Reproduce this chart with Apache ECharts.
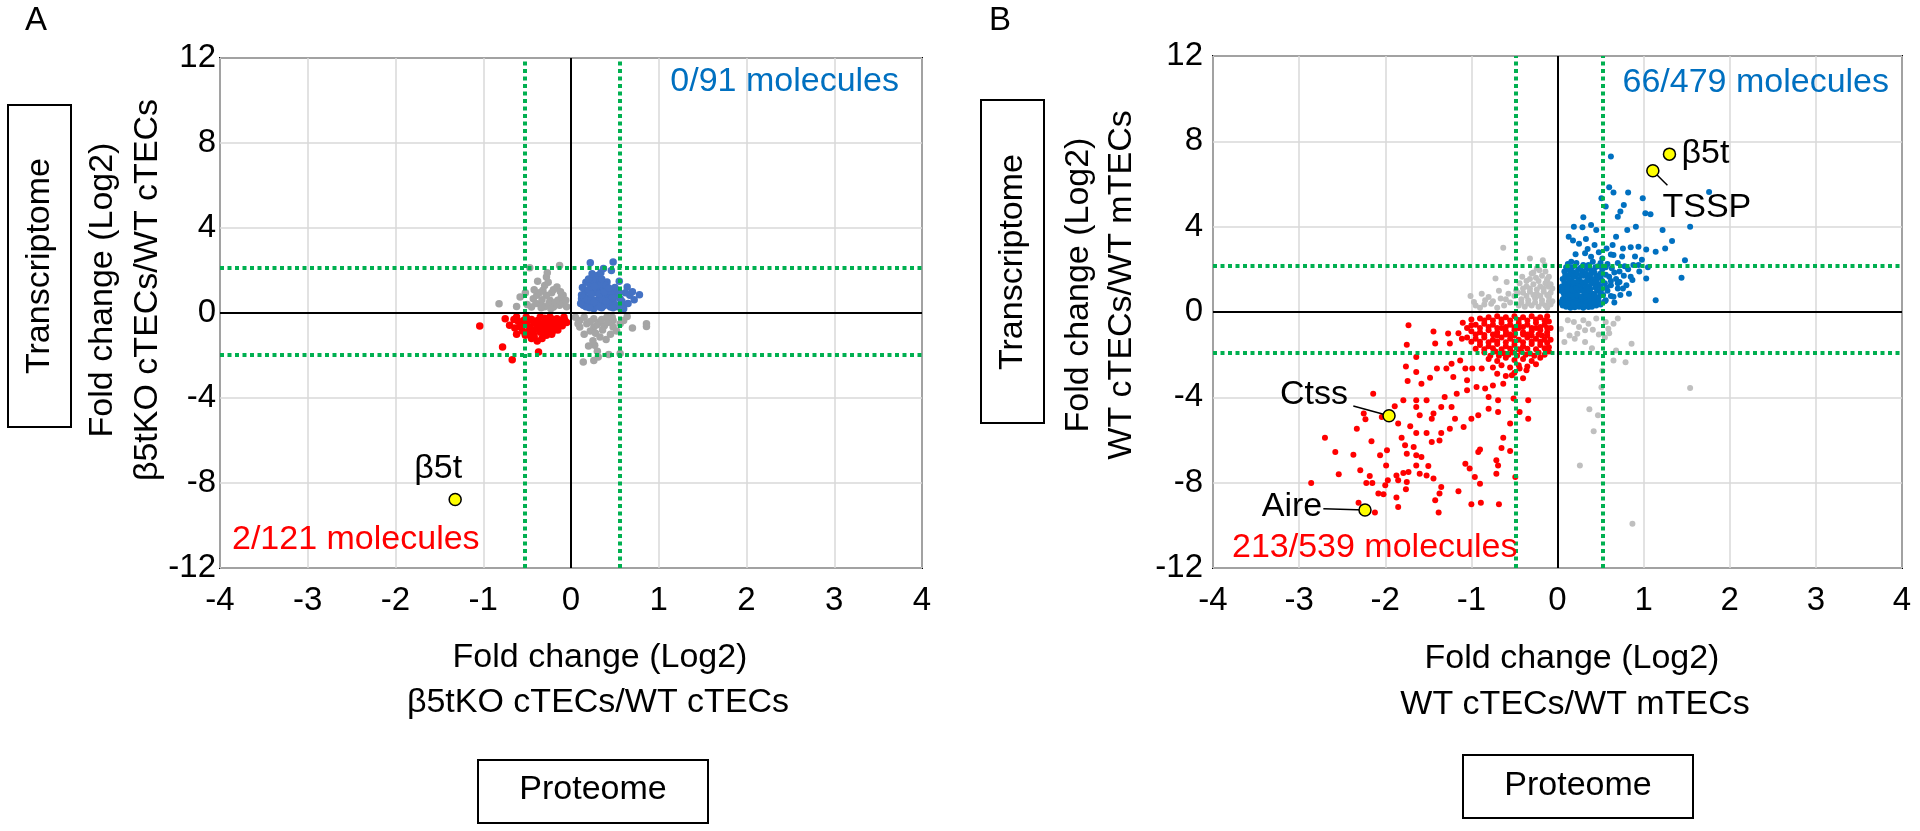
<!DOCTYPE html>
<html><head><meta charset="utf-8">
<script src="https://cdn.jsdelivr.net/npm/echarts@6/dist/echarts.min.js"></script>
<style>html,body{margin:0;padding:0;background:#fff}#c{width:1920px;height:831px}</style>
</head><body><div id="c"></div><script>
// ---------------- DATA ----------------
const xRange = [-4, 4, 1];
const yRange = [-12, 12, 4];

// Panel A : beta5tKO cTECs / WT cTECs
const aBlue = [[0.22,2.37],[0.48,2.40],[0.46,2.0],[0.30,1.77],[0.31,1.57],[0.41,1.46],[0.26,1.22],[0.18,1.07],[0.48,1.07],[0.64,1.22],[0.67,0.83],[0.78,0.86],[0.56,0.67],[0.60,0.36],[0.14,0.36],[0.12,0.67],[0.29,0.60],[0.45,0.28],[0.33,0.28],[0.22,0.75],[0.37,0.91],[0.27,0.99],[0.48,0.60],[0.16,0.52],[0.41,0.67],
[0.15,0.9],[0.2,0.45],[0.24,0.3],[0.28,0.42],[0.35,0.5],[0.38,0.35],[0.42,0.45],[0.5,0.4],[0.52,0.8],[0.44,0.85],[0.33,0.78],[0.25,0.62],[0.19,0.62],[0.31,1.1],[0.36,1.22],[0.42,1.05],[0.22,1.35],[0.28,1.42],[0.34,1.35],[0.39,0.72],[0.46,0.95],[0.13,1.2],[0.17,1.45],[0.25,1.55],[0.35,1.6],[0.29,0.95],[0.2,1.1],[0.4,1.3],[0.5,1.2],[0.55,0.95],[0.58,0.55],[0.53,0.3],[0.26,0.2],[0.31,0.55],[0.36,0.65],[0.44,0.62],[0.17,0.3],[0.11,0.45],[0.23,0.88],[0.27,1.25],[0.32,0.9],[0.38,1.0],[0.47,0.72],[0.43,1.18],[0.2,1.6],[0.24,1.85],[0.34,1.9],[0.7,1.0],[0.62,0.95],[0.72,0.62],[0.65,0.45],[0.6,0.2],[0.55,1.5],[0.37,2.1],[0.15,0.7],[0.35,0.25],[0.48,0.25],[0.4,0.55],[0.3,0.35],[0.26,0.5],[0.21,0.25],[0.12,0.85]];
const aGray = [[-0.47,2.13],[-0.13,2.24],[-0.28,1.69],[-0.32,1.07],[-0.16,1.22],[-0.11,0.75],[-0.58,0.75],[-0.82,0.44],[-0.62,0.31],[-0.43,0.67],[-0.35,0.44],[-0.24,0.6],[-0.13,0.36],[-0.39,0.83],[-0.28,0.83],[-0.2,0.28],[-0.45,0.28],[-0.09,0.83],
[-0.3,0.3],[-0.25,0.45],[-0.18,0.5],[-0.4,0.45],[-0.33,0.62],[-0.22,0.95],[-0.3,1.3],[-0.26,1.45],[-0.36,0.95],[-0.15,0.6],[-0.1,0.45],[-0.5,0.4],[-0.2,1.1],[-0.42,1.1],[-0.27,1.9],[-0.05,0.3],[-0.52,0.95],[-0.12,1.0],[-0.34,0.25],[-0.23,0.2],[-0.38,1.5],[-0.06,0.6],
[0.10,-0.35],[0.26,-0.27],[0.41,-0.19],[0.64,-0.16],[0.86,-0.5],[0.86,-0.63],[0.45,-1.0],[0.26,-0.66],[0.27,-1.52],[0.33,-1.13],[0.14,-2.31],[0.26,-2.23],[0.31,-2.07],[0.43,-1.95],[0.56,-1.91],[0.18,-0.5],[0.33,-0.42],[0.48,-0.35],[0.10,-0.66],[0.48,-0.66],[0.56,-0.5],
[0.05,-0.2],[0.15,-0.2],[0.22,-0.4],[0.3,-0.55],[0.38,-0.6],[0.42,-0.45],[0.36,-0.8],[0.22,-0.85],[0.15,-1.0],[0.28,-0.95],[0.4,-1.25],[0.3,-1.8],[0.2,-1.55],[0.52,-0.85],[0.6,-0.35],[0.7,-0.7],[0.08,-0.5],[0.35,-0.3],[0.25,-1.3],[0.47,-0.2]];
const aRed = [[-1.04,-0.61],[-0.75,-0.27],[-0.70,-0.58],[-0.78,-1.6],[-0.67,-2.2],[-0.385,-1.32],[-0.37,-1.84],[-0.62,-0.19],[-0.54,-0.35],[-0.47,-0.66],[-0.39,-0.5],[-0.32,-0.74],[-0.28,-1.05],[-0.2,-0.82],[-0.126,-0.5],[-0.07,-0.35],[-0.35,-0.19],[-0.24,-0.19],[-0.43,-0.97],[-0.58,-0.66],[-0.16,-0.27],[-0.51,-0.19],
[-0.45,-0.3],[-0.4,-0.75],[-0.3,-0.4],[-0.25,-0.6],[-0.18,-0.45],[-0.1,-0.6],[-0.35,-0.9],[-0.5,-0.5],[-0.55,-0.85],[-0.6,-0.4],[-0.3,-0.25],[-0.15,-0.8],[-0.22,-1.0],[-0.42,-1.1],[-0.33,-1.2],[-0.48,-0.9],[-0.65,-0.3],[-0.08,-0.2],[-0.27,-0.85],[-0.12,-0.35],[-0.37,-0.6],[-0.52,-1.05],[-0.45,-1.2],[-0.2,-0.3],[-0.05,-0.45],[-0.62,-1.0],
[-0.42,-0.45],[-0.32,-0.55],[-0.23,-0.45],[-0.14,-0.55],[-0.38,-0.35],[-0.28,-0.65],[-0.2,-0.65],[-0.47,-0.78],[-0.56,-0.55],[-0.64,-0.7]];
const aHighlight = [['β5t', -1.32, -8.78]];
const aThreshX = [-0.53, 0.56];
const aThreshY = [2.12, -1.96];
const aCounts = ['0/91 molecules', '2/121 molecules'];

// Panel B : WT cTECs / WT mTECs
const bBlue = [[0.62,7.29],[0.60,5.85],[0.65,5.6],[0.82,5.6],[0.99,5.33],[0.51,5.33],[0.77,5.02],[0.56,4.94],[0.73,4.71],[0.70,4.47],[1.02,4.63],[1.08,4.58],[1.76,5.62],[1.54,4.0],[1.22,3.84],[0.91,4.0],[0.81,3.84],[0.68,3.53],[0.30,4.44],[0.19,4.0],[0.13,3.53],[0.29,3.97],[0.39,4.08],[0.45,3.84],[0.33,3.42],[0.43,3.14],[0.57,2.98],[0.64,3.14],[0.76,2.98],[0.85,3.03],[0.94,3.06],[1.03,2.93],[1.14,2.82],[1.25,2.98],[1.33,3.33],[1.48,2.43],[1.44,1.6],[1.03,1.57],[1.14,0.55],[0.94,2.2],[0.85,1.65],[0.76,1.1],[0.83,0.86],[0.72,1.41],[0.65,0.71],[0.56,0.55],[0.21,2.71],[0.32,2.75],[0.39,2.59],[0.16,2.35],[0.52,2.51],[0.65,2.67],[0.16,0.55],[0.08,0.86],[0.10,1.33],[0.36,0.24],[0.25,0.31],
[0.06,0.3],[0.1,0.25],[0.15,0.2],[0.2,0.22],[0.25,0.25],[0.3,0.2],[0.35,0.3],[0.4,0.25],[0.45,0.3],[0.5,0.35],
[0.06,0.6],[0.1,0.55],[0.14,0.65],[0.19,0.5],[0.23,0.6],[0.28,0.55],[0.33,0.65],[0.38,0.55],[0.43,0.6],[0.48,0.7],[0.53,0.8],
[0.07,0.9],[0.12,0.95],[0.16,0.85],[0.21,0.9],[0.26,1.0],[0.31,0.9],[0.36,0.95],[0.41,0.85],[0.46,1.0],[0.51,1.05],[0.58,1.0],
[0.05,1.2],[0.09,1.25],[0.13,1.3],[0.18,1.2],[0.22,1.35],[0.27,1.25],[0.32,1.3],[0.37,1.2],[0.42,1.35],[0.47,1.3],[0.55,1.35],[0.62,1.25],
[0.06,1.55],[0.11,1.6],[0.16,1.5],[0.2,1.65],[0.25,1.55],[0.3,1.7],[0.35,1.6],[0.4,1.55],[0.45,1.7],[0.5,1.6],[0.6,1.65],[0.68,1.55],
[0.08,1.9],[0.14,1.95],[0.19,1.85],[0.24,2.0],[0.29,1.9],[0.34,2.05],[0.39,1.95],[0.44,2.1],[0.52,2.0],[0.63,2.05],[0.72,1.9],
[0.12,2.25],[0.22,2.3],[0.3,2.2],[0.41,2.35],[0.5,2.3],[0.58,2.25],[0.7,2.3],[0.78,2.15],[0.88,2.2],
[0.66,0.45],[0.73,0.8],[0.8,1.25],[0.87,1.5],[0.95,1.9],[0.9,2.6],[0.98,2.45],[1.05,2.1],[0.75,2.6],[0.62,2.7],[0.48,2.8],[0.35,2.95],[0.25,3.2],[0.18,3.35],
[0.03,0.45],[0.04,1.0],[0.55,0.5],[0.62,0.75],[0.7,1.1],
[0.08,0.42],[0.13,0.4],[0.18,0.35],[0.23,0.42],[0.28,0.38],[0.33,0.45],[0.38,0.4],[0.43,0.45],[0.48,0.5],
[0.08,0.75],[0.13,0.8],[0.18,0.72],[0.23,0.78],[0.28,0.72],[0.33,0.8],[0.38,0.75],[0.43,0.78],[0.5,0.88],
[0.07,1.08],[0.12,1.1],[0.17,1.05],[0.22,1.12],[0.28,1.08],[0.33,1.12],[0.38,1.08],[0.44,1.15],[0.5,1.2],[0.57,1.15],
[0.08,1.4],[0.14,1.42],[0.19,1.38],[0.24,1.45],[0.29,1.4],[0.34,1.45],[0.39,1.38],[0.45,1.48],[0.52,1.45],
[0.09,1.72],[0.14,1.75],[0.18,1.68],[0.23,1.78],[0.28,1.72],[0.33,1.8],[0.38,1.75],[0.43,1.85],[0.5,1.8],[0.56,1.75],
[0.1,2.1],[0.17,2.1],[0.27,2.08],[0.36,2.2],[0.47,2.15],[0.56,2.1],[0.66,1.85],[0.62,1.45],[0.7,1.35],[0.77,1.7],[0.82,2.0]];
const bGray = [[-0.63,3.01],[-0.32,2.51],[-0.17,2.43],[-0.72,1.57],[-0.59,1.41],[-1.01,0.75],[-0.88,0.86],[-0.84,0.55],[-0.97,0.47],[-0.77,0.39],[-0.66,0.63],[-0.57,0.86],[-0.48,1.02],[-0.41,1.65],[-0.30,1.8],[-0.21,1.96],[-0.12,1.49],[-0.10,1.18],
[-0.45,0.3],[-0.38,0.25],[-0.3,0.3],[-0.22,0.25],[-0.14,0.3],[-0.08,0.35],[-0.42,0.6],[-0.34,0.55],[-0.26,0.65],[-0.18,0.55],[-0.1,0.7],[-0.5,0.75],[-0.4,0.9],[-0.32,0.95],[-0.24,0.85],[-0.16,0.95],[-0.08,0.9],[-0.36,1.2],[-0.28,1.3],[-0.2,1.2],[-0.14,1.35],[-0.44,1.35],[-0.32,1.55],[-0.25,1.6],[-0.18,1.7],[-0.1,1.65],[-0.24,2.05],[-0.15,2.2],[-0.55,0.45],[-0.62,0.3],[-0.7,0.2],[-0.9,0.2],[-0.8,0.7],[-0.68,1.0],[-0.06,0.5],[-0.06,1.1],[-0.12,0.2],
[-0.42,0.45],[-0.34,0.4],[-0.26,0.45],[-0.18,0.4],[-0.1,0.5],[-0.46,0.9],[-0.36,0.75],[-0.28,0.8],[-0.2,0.75],[-0.12,0.8],[-0.4,1.1],[-0.32,1.1],[-0.24,1.05],[-0.16,1.1],[-0.08,1.3],[-0.36,1.45],[-0.22,1.45],[-0.12,1.55],[-0.28,1.85],[-0.14,1.9],[-0.6,0.6],[-0.75,0.5],[-0.85,0.35],[-0.95,0.3],
[0.12,-0.39],[0.19,-0.47],[0.30,-0.39],[0.36,-0.55],[0.41,-0.83],[0.32,-0.86],[0.23,-1.02],[0.14,-1.1],[0.08,-1.41],[0.32,-1.41],[0.48,-1.05],[0.59,-0.78],[0.65,-0.55],[0.70,-0.31],[0.56,-0.47],[0.86,-1.49],[0.68,-1.80],[0.65,-2.27],[0.79,-2.35],[0.52,-2.75],[0.51,-3.53],[1.54,-3.56],[0.37,-4.56],[0.47,-4.84],[0.42,-5.59],[0.26,-7.19],[0.87,-9.93],[0.45,-0.3],[0.25,-0.7],[0.04,-0.8],[0.2,-1.25],[0.55,-1.2],[0.4,-1.7],[0.6,-1.0]];
const bRed = [[-1.73,-0.62],[-1.44,-0.91],[-1.75,-1.53],[-1.42,-1.48],[-1.27,-1.01],[-1.25,-1.48],[-1.11,-1.25],[-1.0,-0.62],[-1.64,-2.11],[-1.76,-2.55],[-1.64,-2.81],[-1.40,-2.65],[-1.29,-2.65],[-1.23,-2.42],[-1.13,-2.27],[-1.07,-2.65],[-0.99,-2.65],[-0.88,-2.65],[-1.74,-3.23],[-1.58,-3.36],[-1.48,-3.08],[-1.21,-3.05],[-1.05,-3.2],[-0.94,-3.51],[-0.84,-3.59],[-0.75,-3.44],[-0.63,-3.36],[-0.53,-2.97],[-0.44,-2.65],[-0.36,-2.73],
[-2.14,-3.83],[-1.79,-4.14],[-1.64,-4.14],[-1.52,-4.14],[-1.31,-3.98],[-1.17,-3.83],[-1.05,-3.67],[-0.80,-3.98],[-0.69,-4.14],[-0.51,-4.06],[-0.34,-4.14],[-2.25,-4.76],[-2.23,-5.03],[-2.04,-4.92],[-1.89,-4.42],[-1.85,-5.23],[-1.64,-4.45],[-1.60,-4.84],[-1.44,-4.76],[-1.35,-4.45],[-1.23,-4.45],[-1.19,-5.0],[-1.09,-5.39],[-1.0,-5.0],[-0.92,-4.84],[-0.80,-4.53],[-0.69,-4.69],[-0.55,-5.23],[-0.44,-4.69],[-0.34,-5.0],
[-2.33,-5.47],[-2.70,-5.9],[-2.16,-6.06],[-2.58,-6.56],[-2.37,-6.69],[-2.06,-6.72],[-1.98,-6.48],[-1.81,-5.9],[-1.71,-5.36],[-1.77,-6.25],[-1.67,-6.33],[-1.75,-6.64],[-1.64,-6.72],[-1.58,-6.8],[-1.64,-5.67],[-1.52,-5.67],[-1.46,-6.09],[-1.37,-6.02],[-1.35,-5.67],[-1.25,-5.47],[-1.46,-5.0],[-0.90,-6.44],[-0.92,-6.56],[-0.65,-6.37],[-0.55,-6.51],[-0.63,-5.89],[-0.49,-7.73],[-0.71,-6.95],[-0.69,-7.19],[-0.71,-7.58],
[-1.07,-7.11],[-1.02,-7.34],[-0.96,-7.73],[-0.90,-8.05],[-1.0,-9.01],[-0.89,-8.94],[-0.68,-9.01],[-1.15,-8.40],[-1.35,-8.2],[-1.37,-8.51],[-1.42,-8.83],[-1.38,-9.40],[-1.44,-7.81],[-1.52,-7.66],[-1.60,-7.58],[-1.50,-7.22],[-1.64,-7.19],[-1.73,-7.5],[-1.79,-7.55],[-1.87,-7.66],[-1.85,-7.89],[-1.75,-7.97],[-1.76,-8.31],[-1.87,-8.7],[-1.85,-9.14],[-2.0,-8.12],[-1.97,-7.89],[-2.02,-8.54],[-1.99,-7.19],[-2.08,-8.51],[-2.15,-8.02],[-2.22,-8.02],[-2.18,-7.69],[-2.29,-7.42],[-2.54,-7.61],[-2.86,-8.02],[-2.31,-8.94],[-2.12,-9.40],
[-0.9,-0.3],[-0.8,-0.25],[-0.7,-0.2],[-0.6,-0.25],[-0.5,-0.2],[-0.4,-0.25],[-0.3,-0.2],[-0.2,-0.25],[-0.12,-0.2],
[-0.95,-0.6],[-0.85,-0.55],[-0.75,-0.6],[-0.65,-0.5],[-0.55,-0.6],[-0.45,-0.55],[-0.35,-0.6],[-0.25,-0.5],[-0.15,-0.6],[-0.1,-0.45],
[-1.0,-0.9],[-0.9,-0.95],[-0.8,-0.85],[-0.7,-0.95],[-0.6,-0.9],[-0.5,-0.85],[-0.4,-0.95],[-0.3,-0.9],[-0.2,-0.85],[-0.12,-0.95],
[-1.05,-1.2],[-0.95,-1.25],[-0.85,-1.2],[-0.75,-1.3],[-0.65,-1.2],[-0.55,-1.25],[-0.45,-1.3],[-0.35,-1.2],[-0.25,-1.25],[-0.15,-1.3],
[-0.9,-1.55],[-0.8,-1.6],[-0.7,-1.5],[-0.6,-1.6],[-0.5,-1.55],[-0.4,-1.6],[-0.3,-1.5],[-0.2,-1.55],[-0.1,-1.65],
[-0.85,-1.9],[-0.72,-1.85],[-0.62,-1.95],[-0.52,-1.9],[-0.42,-1.85],[-0.32,-1.95],[-0.22,-1.9],[-0.1,-1.85],
[-0.8,-2.2],[-0.7,-2.3],[-0.6,-2.15],[-0.5,-2.25],[-0.4,-2.2],[-0.3,-2.3],[-0.2,-2.15],
[-0.75,-2.6],[-0.65,-2.5],[-0.55,-2.6],[-0.45,-2.5],[-0.35,-2.55],[-0.25,-2.45],
[-0.7,-2.9],[-0.6,-3.0],[-0.5,-2.85],[-0.4,-3.1],
[-1.1,-0.5],[-1.05,-0.75],[-1.0,-0.35],[-1.15,-1.0],[-0.85,-0.4],[-0.65,-0.75],[-0.45,-0.75],[-0.25,-0.75],[-0.55,-1.05],[-0.35,-1.05],[-0.75,-1.05],[-0.18,-1.1],[-0.08,-0.75],[-0.08,-1.3],
[-0.75,-0.4],[-0.65,-0.35],[-0.55,-0.4],[-0.45,-0.38],[-0.35,-0.4],[-0.25,-0.35],[-0.15,-0.4],
[-0.9,-0.75],[-0.8,-0.7],[-0.7,-0.75],[-0.6,-0.7],[-0.5,-0.72],[-0.4,-0.7],[-0.3,-0.75],[-0.2,-0.7],[-0.12,-0.75],
[-0.95,-1.05],[-0.85,-1.08],[-0.7,-1.1],[-0.6,-1.05],[-0.5,-1.1],[-0.4,-1.05],[-0.3,-1.1],[-0.22,-1.05],[-0.12,-1.1],
[-1.0,-1.4],[-0.9,-1.4],[-0.8,-1.42],[-0.7,-1.38],[-0.6,-1.42],[-0.5,-1.4],[-0.4,-1.42],[-0.3,-1.38],[-0.2,-1.4],[-0.12,-1.45],
[-0.95,-1.72],[-0.85,-1.75],[-0.75,-1.7],[-0.65,-1.75],[-0.55,-1.72],[-0.45,-1.75],[-0.35,-1.72],[-0.25,-1.75],[-0.15,-1.7],
[-0.78,-2.05],[-0.68,-2.05],[-0.57,-2.0],[-0.47,-2.05],[-0.37,-2.0],[-0.27,-2.05],[-0.15,-2.0]];
const bHighlight = [['β5t', 1.30, 7.40], ['TSSP', 1.107, 6.62], ['Ctss', -1.956, -4.86], ['Aire', -2.235, -9.28]];
const bLeaders = [['TSSP', 1.276, 5.94], ['Ctss', -2.371, -4.41], ['Aire', -2.719, -9.22]];
const bThreshX = [-0.49, 0.52];
const bThreshY = [2.16, -1.91];
const bCounts = ['66/479 molecules', '213/539 molecules'];

const panelLetters = ['A', 'B'];
const yNames = [['Fold change (Log2)', 'β5tKO cTECs/WT cTECs'], ['Fold change (Log2)', 'WT cTECs/WT mTECs']];
const xNames = [['Fold change (Log2)', 'β5tKO cTECs/WT cTECs'], ['Fold change (Log2)', 'WT cTECs/WT mTECs']];
const boxY = 'Transcriptome';
const boxX = 'Proteome';

// ---------------- CHART ----------------
const FONT = '"Liberation Sans", Arial, sans-serif';
const chart = echarts.init(document.getElementById('c'), null, {renderer: 'canvas'});

const grids = [
  {left: 220, top: 58, width: 702, height: 510, show: true, borderColor: '#000', borderWidth: 2, backgroundColor: 'transparent'},
  {left: 1213, top: 56, width: 689, height: 512, show: true, borderColor: '#000', borderWidth: 2, backgroundColor: 'transparent'}
];
const yLabelMargin = [4, 10];

function xAx(i) {
  return {gridIndex: i, type: 'value', min: xRange[0], max: xRange[1], interval: xRange[2],
    axisLine: {show: false}, axisTick: {show: false},
    splitLine: {show: true, lineStyle: {color: '#d9d9d9', width: 1.5}},
    axisLabel: {fontSize: 33, color: '#000', margin: 16, fontFamily: FONT}};
}
function yAx(i) {
  return {gridIndex: i, type: 'value', min: yRange[0], max: yRange[1], interval: yRange[2],
    axisLine: {show: false}, axisTick: {show: false},
    splitLine: {show: true, lineStyle: {color: '#d9d9d9', width: 1.5}},
    axisLabel: {fontSize: 33, color: '#000', margin: yLabelMargin[i], fontFamily: FONT}};
}

function scat(i, data, color, size) {
  return {type: 'scatter', xAxisIndex: i, yAxisIndex: i, data: data, symbolSize: size,
    itemStyle: {color: color, opacity: 1}, z: 2, silent: true};
}
function refLines(i, tx, ty) {
  const green = {color: '#00B050', width: 4, type: [4, 3.5]};
  const black = {color: '#000', width: 2, type: 'solid'};
  const d = [];
  tx.forEach(v => d.push({xAxis: v, lineStyle: green}));
  ty.forEach(v => d.push({yAxis: v, lineStyle: green}));
  d.push({xAxis: 0, lineStyle: black});
  d.push({yAxis: 0, lineStyle: black});
  return {type: 'scatter', xAxisIndex: i, yAxisIndex: i, data: [], z: 5, silent: true,
    markLine: {silent: true, symbol: 'none', animation: false, label: {show: false}, data: d}};
}
// label placement styles (pixel offsets from the marker)
const labelOffsets = {
  'A:β5t': [-17, -31], 'B:β5t': [36, -1], 'B:TSSP': [54, 37], 'B:Ctss': [-75, -21], 'B:Aire': [-73, -3]
};
function highlights(i, key, arr) {
  return {type: 'scatter', xAxisIndex: i, yAxisIndex: i, z: 10, silent: true,
    symbolSize: 12,
    itemStyle: {color: '#FFFF00', borderColor: '#000', borderWidth: 1.5, opacity: 1},
    data: arr.map(r => ({name: r[0], value: [r[1], r[2]],
      label: {show: true, position: 'inside', offset: labelOffsets[key + ':' + r[0]], formatter: r[0],
        fontSize: 34, color: '#000', fontFamily: FONT}}))};
}
function leaders(i, hl, ld) {
  const d = ld.map(l => {
    const h = hl.find(r => r[0] === l[0]);
    return [{coord: [h[1], h[2]]}, {coord: [l[1], l[2]]}];
  });
  return {type: 'scatter', xAxisIndex: i, yAxisIndex: i, data: [], z: 8, silent: true,
    markLine: {silent: true, symbol: 'none', animation: false, label: {show: false},
      lineStyle: {color: '#000', width: 1.5, type: 'solid'}, data: d}};
}

function txt(x, y, text, opts) {
  opts = opts || {};
  return {type: 'text', x: x, y: y, rotation: opts.rot || 0, z: 20,
    style: {text: text, fill: opts.color || '#000', font: (opts.size || 34) + 'px ' + FONT,
      textAlign: opts.align || 'center', textVerticalAlign: 'middle'}};
}
function rect(x, y, w, h) {
  return {type: 'rect', z: 20, shape: {x: x, y: y, width: w, height: h},
    style: {fill: 'none', stroke: '#000', lineWidth: 2}};
}

const BLUE_TXT = '#0070C0';
const graphic = [
  txt(36, 21, panelLetters[0], {size: 33}),
  txt(1000, 21, panelLetters[1], {size: 33}),
  rect(8, 105, 63, 322), txt(40, 266, boxY, {rot: Math.PI / 2}),
  rect(981, 100, 63, 323), txt(1013, 262, boxY, {rot: Math.PI / 2}),
  txt(103, 290, yNames[0][0], {rot: Math.PI / 2}),
  txt(148, 290, yNames[0][1], {rot: Math.PI / 2}),
  txt(1079, 285, yNames[1][0], {rot: Math.PI / 2}),
  txt(1122, 285, yNames[1][1], {rot: Math.PI / 2}),
  txt(600, 658, xNames[0][0]), txt(598, 703, xNames[0][1]),
  txt(1572, 659, xNames[1][0]), txt(1575, 705, xNames[1][1]),
  rect(478, 760, 230, 63), txt(593, 790, boxX),
  rect(1463, 755, 230, 63), txt(1578, 786, boxX),
  txt(899, 82, aCounts[0], {align: 'right', color: BLUE_TXT}),
  txt(232, 540, aCounts[1], {align: 'left', color: '#FF0000'}),
  txt(1889, 83, bCounts[0], {align: 'right', color: BLUE_TXT}),
  txt(1232, 548, bCounts[1], {align: 'left', color: '#FF0000'})
];

chart.setOption({
  animation: false,
  backgroundColor: '#fff',
  grid: grids,
  xAxis: [xAx(0), xAx(1)],
  yAxis: [yAx(0), yAx(1)],
  graphic: graphic,
  series: [
    scat(0, aGray, '#A5A5A5', 7.5),
    scat(0, aRed, '#FF0000', 7.5),
    scat(0, aBlue, '#4472C4', 7.5),
    refLines(0, aThreshX, aThreshY),
    highlights(0, 'A', aHighlight),
    scat(1, bGray, '#BFBFBF', 6),
    scat(1, bRed, '#FF0000', 6),
    scat(1, bBlue, '#0070C0', 6),
    refLines(1, bThreshX, bThreshY),
    leaders(1, bHighlight, bLeaders),
    highlights(1, 'B', bHighlight)
  ]
});
</script></body></html>
